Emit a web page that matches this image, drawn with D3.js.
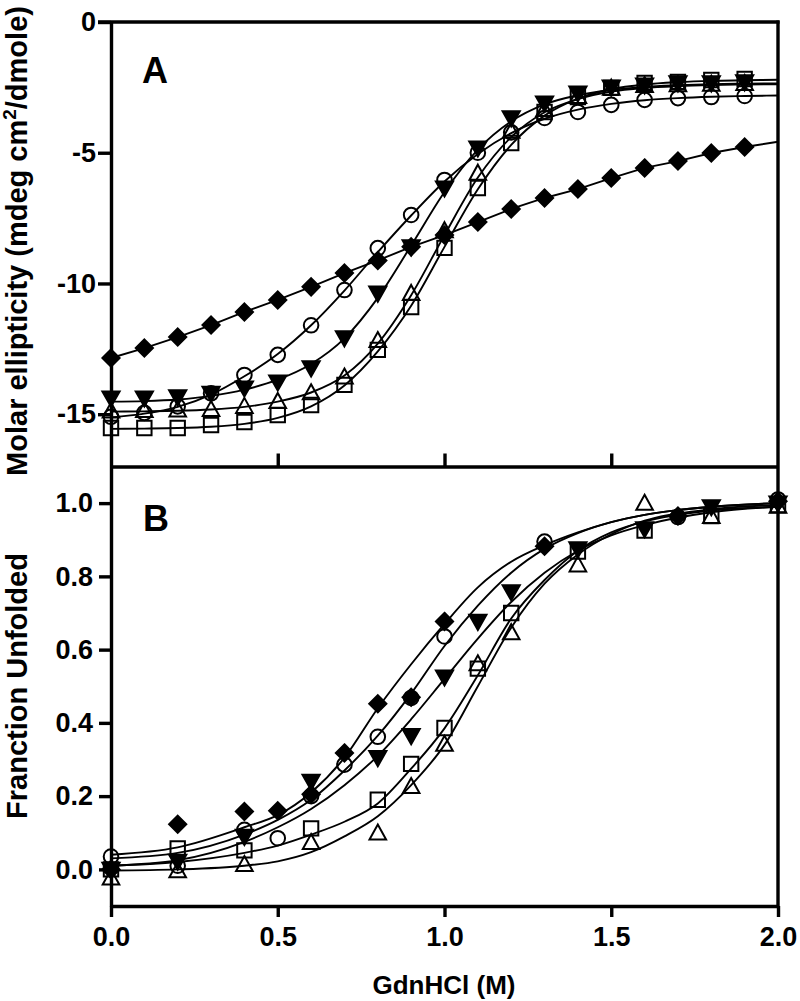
<!DOCTYPE html>
<html>
<head>
<meta charset="utf-8">
<script src="https://cdn.jsdelivr.net/npm/d3@7"></script>
<style>
  html, body { margin: 0; padding: 0; background: #fff; }
  svg { display: block; }
  text { font-family: "Liberation Sans", Arial, sans-serif; font-weight: bold; fill: #000; }
</style>
</head>
<body>
<svg id="chart" width="800" height="1001"></svg>
<script>
// ---------------- DATA ----------------
// Panel A: molar ellipticity vs GdnHCl (M)
const xA = [0,0.1,0.2,0.3,0.4,0.5,0.6,0.7,0.8,0.9,1.0,1.1,1.2,1.3,1.4,1.5,1.6,1.7,1.8,1.9];
const diamondA = [-12.85,-12.47,-12.05,-11.59,-11.09,-10.63,-10.13,-9.6,-9.12,-8.6,-8.15,-7.65,-7.15,-6.73,-6.39,-5.97,-5.58,-5.32,-5.01,-4.78];
const circleA  = [-15.1,-14.95,-14.7,-14.2,-13.5,-12.73,-11.6,-10.25,-8.65,-7.38,-6.04,-5.0,-4.22,-3.67,-3.44,-3.17,-2.98,-2.91,-2.87,-2.83];
const triDownA = [-14.38,-14.38,-14.34,-14.2,-14.0,-13.77,-13.23,-12.08,-10.37,-8.6,-6.35,-4.82,-3.67,-3.1,-2.72,-2.49,-2.41,-2.33,-2.33,-2.29];
const triUpA   = [-14.9,-14.88,-14.86,-14.84,-14.72,-14.53,-14.2,-13.6,-12.2,-10.4,-8.0,-5.8,-4.2,-3.37,-2.87,-2.55,-2.45,-2.42,-2.4,-2.37];
const squareA  = [-15.53,-15.53,-15.53,-15.41,-15.3,-15.03,-14.65,-13.88,-12.54,-10.9,-8.64,-6.35,-4.63,-3.44,-2.87,-2.52,-2.33,-2.29,-2.22,-2.18];

// Panel A fitted curves
const fitXA = [0,0.1,0.2,0.3,0.4,0.5,0.6,0.7,0.8,0.9,1.0,1.1,1.2,1.3,1.4,1.5,1.6,1.7,1.8,1.9,2.0];
const fitDiamondA = [-12.85,-12.47,-12.05,-11.59,-11.09,-10.63,-10.13,-9.6,-9.12,-8.6,-8.15,-7.65,-7.15,-6.73,-6.39,-5.97,-5.58,-5.32,-5.01,-4.78,-4.58];
const fitCircleA  = [-15.12,-14.98,-14.72,-14.25,-13.55,-12.7,-11.6,-10.27,-8.8,-7.4,-6.1,-5.05,-4.25,-3.7,-3.35,-3.13,-2.99,-2.91,-2.86,-2.83,-2.81];
const fitTriDownA = [-14.52,-14.5,-14.44,-14.3,-14.06,-13.68,-13.08,-12.1,-10.55,-8.55,-6.5,-4.88,-3.8,-3.15,-2.8,-2.6,-2.48,-2.42,-2.38,-2.36,-2.35];
const fitTriUpA   = [-14.9,-14.89,-14.87,-14.82,-14.72,-14.52,-14.17,-13.52,-12.3,-10.45,-8.15,-5.95,-4.4,-3.45,-2.95,-2.66,-2.52,-2.45,-2.41,-2.39,-2.38];
const fitSquareA  = [-15.56,-15.55,-15.53,-15.48,-15.37,-15.14,-14.7,-13.9,-12.6,-10.85,-8.6,-6.4,-4.7,-3.58,-2.93,-2.57,-2.39,-2.3,-2.25,-2.23,-2.21];

// Panel B: fraction unfolded vs GdnHCl (M)
const xB1 = [0,0.2,0.4,0.5,0.6,0.7,0.8,0.9,1.0,1.3,1.7,2.0];
const diamondB = [0.0,0.123,0.158,0.16,0.205,0.318,0.452,0.47,0.677,0.882,0.965,1.005];
const circleB  = [0.035,0.01,0.108,0.085,0.2,0.286,0.362,0.468,0.636,0.895,0.962,1.01];
const xB2 = [0,0.2,0.4,0.6,0.8,0.9,1.0,1.1,1.2,1.4,1.6,1.8,2.0];
const triDownB = [0.0,0.022,0.09,0.24,0.305,0.365,0.525,0.677,0.758,0.875,0.93,0.99,1.0];
const squareB  = [0.0,0.057,0.052,0.112,0.19,0.288,0.386,0.548,0.70,0.868,0.925,0.965,0.995];
const triUpB   = [-0.025,-0.005,0.012,0.072,0.098,0.225,0.34,0.56,0.645,0.83,0.998,0.962,0.99];

// Panel B fitted curves
const fitXB = [0,0.2,0.4,0.5,0.6,0.7,0.8,0.9,1.0,1.1,1.2,1.3,1.4,1.5,1.6,1.8,2.0];
const fitDiamondB = [0.04,0.06,0.115,0.148,0.21,0.305,0.44,0.56,0.67,0.77,0.84,0.885,0.92,0.948,0.968,0.99,1.0];
const fitCircleB  = [0.03,0.045,0.095,0.135,0.19,0.27,0.365,0.48,0.61,0.72,0.81,0.875,0.918,0.948,0.968,0.99,1.0];
const fitTriDownB = [0.01,0.025,0.075,0.115,0.165,0.23,0.31,0.41,0.52,0.63,0.73,0.81,0.87,0.912,0.94,0.975,0.99];
const fitSquareB  = [0.01,0.02,0.045,0.065,0.095,0.13,0.18,0.275,0.385,0.53,0.685,0.79,0.87,0.92,0.95,0.98,0.99];
const fitTriUpB   = [-0.003,0.0,0.01,0.022,0.047,0.09,0.145,0.23,0.34,0.5,0.66,0.78,0.86,0.915,0.952,0.983,0.995];

// Ticks / labels
const xTicks = [0,0.5,1.0,1.5,2.0];
const yTicksA = [0,-5,-10,-15];
const yTicksB = [0,0.2,0.4,0.6,0.8,1.0];
const xTitle = "GdnHCl (M)";
const yTitleA = ["Molar ellipticity (mdeg cm", "2", "/dmole)"];
const yTitleB = "Franction Unfolded";

// ---------------- DRAW ----------------
const svg = d3.select("#chart");
const x = d3.scaleLinear().domain([0,2]).range([111,778]);
const yA = d3.scaleLinear().domain([-17,0]).range([466.5,22]);
const yB = d3.scaleLinear().domain([-0.1,1.1]).range([906,466.5]);

const AX = 3.4; // axis stroke

// marker shapes
const shapes = {
  circle:  {d: "M7.3,0A7.3,7.3 0 1,1 -7.3,0A7.3,7.3 0 1,1 7.3,0Z", fill: "none"},
  square:  {d: "M-7.2,-7.2H7.2V7.2H-7.2Z", fill: "none"},
  triUp:   {d: "M0,-9L8.3,6H-8.3Z", fill: "none"},
  triDown: {d: "M0,8.5L8.6,-6.6H-8.6Z", fill: "#000"},
  diamond: {d: "M0,-8.6L8.6,0L0,8.6L-8.6,0Z", fill: "#000"}
};

function drawSeries(g, xs, ys, yScale, shape) {
  const s = shapes[shape];
  g.append("g").selectAll("path")
    .data(xs.map((v,i)=>[v, ys[i]]))
    .join("path")
    .attr("transform", d => `translate(${x(d[0])},${yScale(d[1])})`)
    .attr("d", s.d)
    .attr("fill", s.fill)
    .attr("stroke", "#000")
    .attr("stroke-width", 2);
}
function drawFit(g, xs, ys, yScale, curve) {
  const line = d3.line().x(d=>x(d[0])).y(d=>yScale(d[1])).curve(curve);
  g.append("path")
    .datum(xs.map((v,i)=>[v, ys[i]]))
    .attr("d", line)
    .attr("fill", "none")
    .attr("stroke", "#000")
    .attr("stroke-width", 1.9);
}

// ---- Panel A ----
const gA = svg.append("g");
drawFit(gA, fitXA, fitDiamondA, yA, d3.curveLinear);
drawFit(gA, fitXA, fitCircleA, yA, d3.curveMonotoneX);
drawFit(gA, fitXA, fitTriDownA, yA, d3.curveMonotoneX);
drawFit(gA, fitXA, fitTriUpA, yA, d3.curveMonotoneX);
drawFit(gA, fitXA, fitSquareA, yA, d3.curveMonotoneX);
drawSeries(gA, xA, circleA, yA, "circle");
drawSeries(gA, xA, diamondA, yA, "diamond");
drawSeries(gA, xA, triDownA, yA, "triDown");
drawSeries(gA, xA, triUpA, yA, "triUp");
drawSeries(gA, xA, squareA, yA, "square");

// ---- Panel B ----
const gB = svg.append("g");
drawFit(gB, fitXB, fitDiamondB, yB, d3.curveMonotoneX);
drawFit(gB, fitXB, fitCircleB, yB, d3.curveMonotoneX);
drawFit(gB, fitXB, fitTriDownB, yB, d3.curveMonotoneX);
drawFit(gB, fitXB, fitSquareB, yB, d3.curveMonotoneX);
drawFit(gB, fitXB, fitTriUpB, yB, d3.curveMonotoneX);
drawSeries(gB, xB1, circleB, yB, "circle");
drawSeries(gB, xB1, diamondB, yB, "diamond");
drawSeries(gB, xB2, triDownB, yB, "triDown");
drawSeries(gB, xB2, triUpB, yB, "triUp");
drawSeries(gB, xB2, squareB, yB, "square");

// ---- Axes / frames ----
function styleAxis(g) {
  g.select(".domain").attr("stroke", "#000").attr("stroke-width", AX);
  g.selectAll(".tick line").attr("stroke", "#000").attr("stroke-width", AX);
  g.selectAll(".tick text").style("font-size", "27px").style("font-family", "'Liberation Sans', Arial, sans-serif").style("font-weight", "bold");
}
// Panel A left axis
svg.append("g").attr("transform", "translate(111,0)")
  .call(d3.axisLeft(yA).tickValues(yTicksA).tickSize(13).tickSizeOuter(0).tickPadding(2).tickFormat(d => String(d)))
  .call(styleAxis);
// Panel A top, right frame and bottom line with inward ticks
const frame = svg.append("g").attr("stroke", "#000").attr("stroke-width", AX).attr("fill", "none");
frame.append("line").attr("x1", 98).attr("x2", 779.5).attr("y1", yA(0)).attr("y2", yA(0));
frame.append("line").attr("x1", 778).attr("x2", 778).attr("y1", yA(0)-1.5).attr("y2", yB(-0.1));
svg.append("g").attr("transform", `translate(0,${yA(-17)})`)
  .call(d3.axisTop(x).tickValues([0.5,1.0,1.5]).tickSize(13).tickSizeOuter(0).tickFormat(""))
  .call(styleAxis);

// Panel B left axis
svg.append("g").attr("transform", "translate(111,0)")
  .call(d3.axisLeft(yB).tickValues(yTicksB).tickSize(12).tickSizeOuter(0).tickPadding(6).tickFormat(d3.format(".1f")))
  .call(styleAxis);
// Panel B bottom axis
svg.append("g").attr("transform", `translate(0,${yB(-0.1)})`)
  .call(d3.axisBottom(x).tickValues(xTicks).tickSize(11).tickSizeOuter(0).tickPadding(10).tickFormat(d3.format(".1f")))
  .call(styleAxis);

// Panel letters
svg.append("text").attr("x", 142).attr("y", 83).style("font-size", "36px").text("A");
svg.append("text").attr("x", 143).attr("y", 531).style("font-size", "36px").text("B");

// Axis titles
svg.append("text").attr("x", 444).attr("y", 994).attr("text-anchor", "middle").style("font-size", "26px").text(xTitle);

const tA = svg.append("text").attr("transform", "translate(27,241) rotate(-90)").attr("text-anchor", "middle").style("font-size", "29px");
tA.append("tspan").text(yTitleA[0]);
tA.append("tspan").attr("dy", -11).style("font-size", "19px").text(yTitleA[1]);
tA.append("tspan").attr("dy", 11).text(yTitleA[2]);

svg.append("text").attr("transform", "translate(27,686) rotate(-90)").attr("text-anchor", "middle").style("font-size", "29px").text(yTitleB);
</script>
</body>
</html>
